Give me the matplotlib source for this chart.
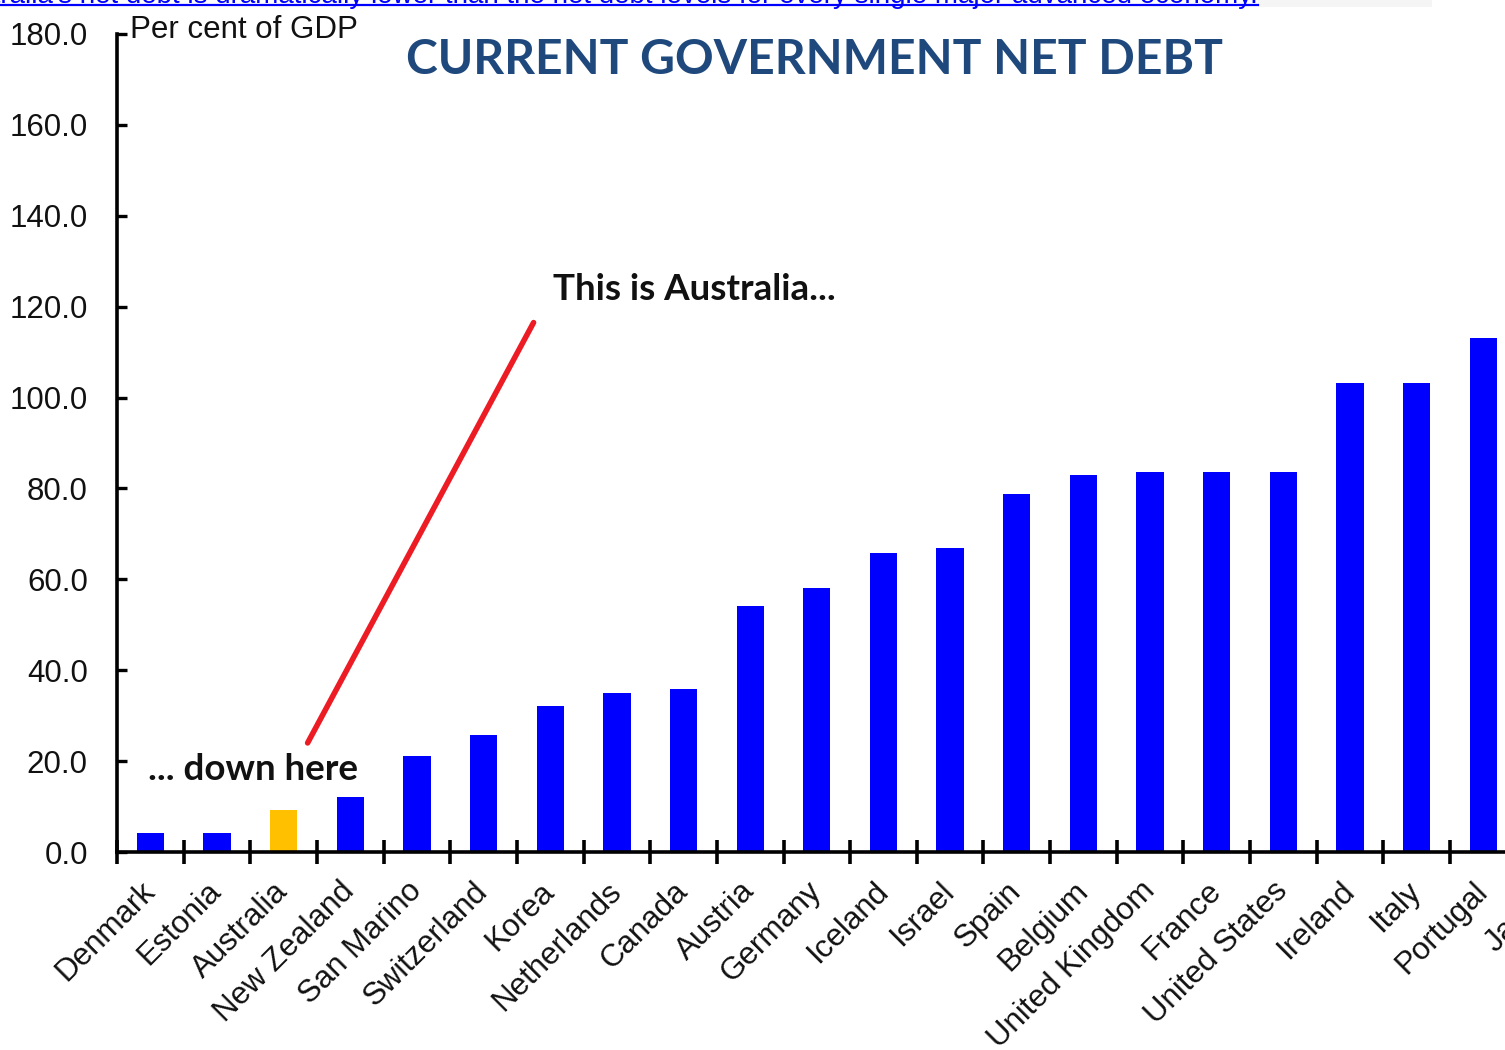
import matplotlib
matplotlib.use("Agg")
import matplotlib.pyplot as plt
from matplotlib.patches import Rectangle
import matplotlib.transforms as mtransforms

countries = ["Denmark", "Estonia", "Australia", "New Zealand", "San Marino",
             "Switzerland", "Korea", "Netherlands", "Canada", "Austria",
             "Germany", "Iceland", "Israel", "Spain", "Belgium",
             "United Kingdom", "France", "United States", "Ireland", "Italy",
             "Portugal", "Japan"]
net_debt = [4.2, 4.2, 9.2, 12.1, 21.1, 25.7, 32.1, 34.9, 35.8, 54.1,
            58.2, 65.7, 67.0, 78.7, 82.9, 83.7, 83.7, 83.7, 103.1, 103.1,
            113.2, 130.0]
highlight = "Australia"
y_ticks = [0, 20, 40, 60, 80, 100, 120, 140, 160, 180]

W, H = 1505, 1050
fig = plt.figure(figsize=(W / 100, H / 100), dpi=100)
fig.patch.set_facecolor("white")

# axes: left spine at x=117px, y=0 at 852px, y=180 at 34px, one category = 66.65px
cat_px = 66.65
n = len(countries)
ax_left = 117 / W
ax_bottom = (H - 852) / H
ax_height = (852 - 34) / H
ax_width = (n * cat_px) / W
ax = fig.add_axes([ax_left, ax_bottom, ax_width, ax_height])

colors = ["#ffc000" if c == highlight else "#0000ff" for c in countries]
x = list(range(n))
ax.bar(x, net_debt, width=0.41, color=colors, zorder=2)

ax.set_xlim(-0.5, n - 0.5)
ax.set_ylim(0, 180)

for s in ["top", "right"]:
    ax.spines[s].set_visible(False)
for s in ["left", "bottom"]:
    ax.spines[s].set_linewidth(2.6)
    ax.spines[s].set_color("black")
    ax.spines[s].set_zorder(3)

font_lab = "Liberation Sans"
lab_size = 22.5
ax.set_yticks(y_ticks)
ax.set_yticklabels([f"{v:.1f}" for v in y_ticks], fontsize=lab_size, family=font_lab,
                   color="#111111")
ax.tick_params(axis="y", direction="in", length=7, width=2.4, pad=21)

# category boundary ticks (major) and labels at centres (minor)
ax.set_xticks([i - 0.5 for i in range(n + 1)])
ax.set_xticklabels([])
ax.tick_params(axis="x", which="major", direction="inout", length=17, width=2.6)
ax.set_xticks(x, minor=True)
ax.set_xticklabels(countries, minor=True, rotation=45, ha="right", va="center",
                   rotation_mode="anchor", fontsize=lab_size, family=font_lab,
                   color="#111111")
ax.tick_params(axis="x", which="minor", length=0, pad=25)

# axis unit label
fig.text(130 / W, 1 - 30 / H, "Per cent of GDP", fontsize=22.5, family=font_lab,
         color="#111111", ha="left", va="center")

# title
fig.text(814 / W, 1 - 60 / H, "CURRENT GOVERNMENT NET DEBT", fontsize=34.6,
         family="Lato", weight="bold", color="#1f497d", ha="center", va="center")

# annotations
fig.text(553 / W, 1 - 290 / H, "This is Australia...", fontsize=26.5, family="Lato",
         weight="bold", color="#111111", ha="left", va="center")
fig.text(148 / W, 1 - 769 / H, "... down here", fontsize=26.5, family="Lato",
         weight="bold", color="#111111", ha="left", va="center")
ax.plot([2.36, 5.75], [24.0, 116.5], color="#ed1c24", lw=4, solid_capstyle="round",
        clip_on=False, zorder=4)

# cut-off hyperlink strip at the top of the screenshot
fig.text(1258 / W, 1 - 3 / H,
         "Australia's net debt is dramatically lower than the net debt levels for every single major advanced economy.",
         fontsize=20, family=font_lab, color="#0000ff", ha="right", va="baseline")
fig.add_artist(plt.Line2D([0, 1258 / W], [1 - 4.5 / H, 1 - 4.5 / H],
                          transform=fig.transFigure, color="#0000ff", lw=1.6))
fig.add_artist(Rectangle((1258 / W, 1 - 7 / H), (1432 - 1258) / W, 7 / H,
                         transform=fig.transFigure, color="#f5f5f5", lw=0))

fig.savefig("out.png", dpi=100)
